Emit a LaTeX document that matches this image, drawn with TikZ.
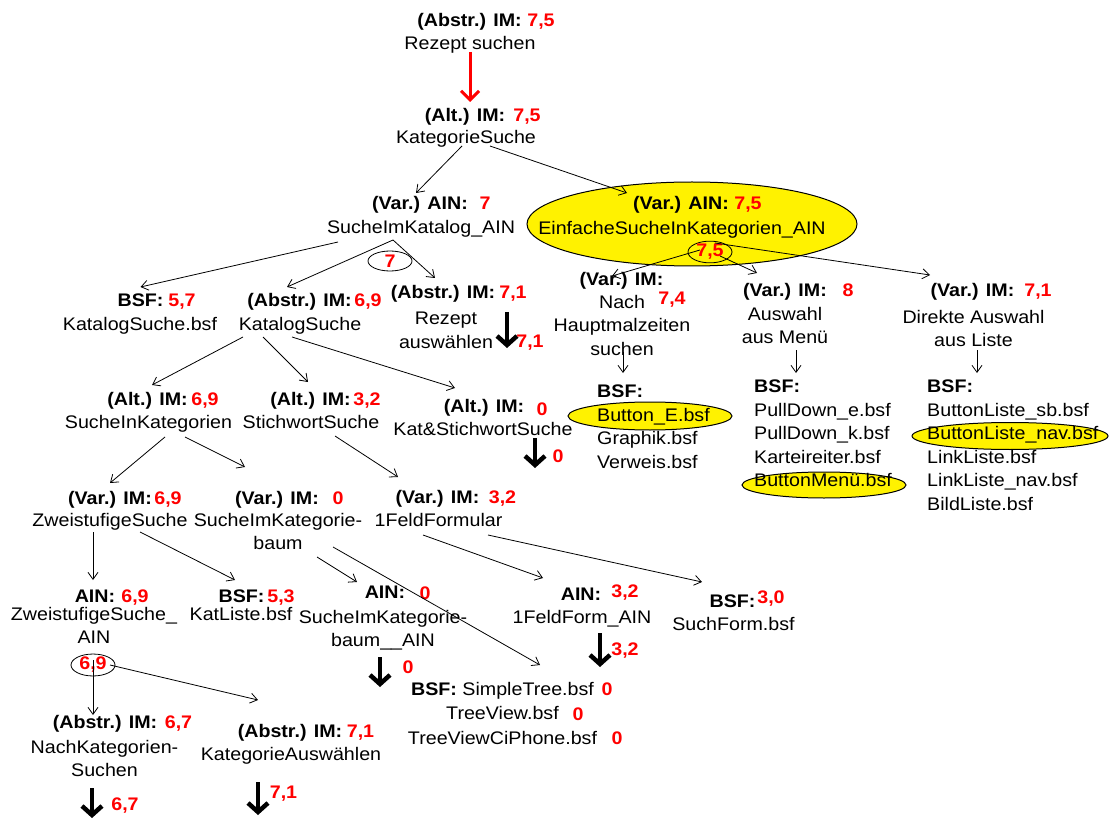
\documentclass[tikz,border=0pt]{standalone}
\usepackage{fontspec}
\setmainfont{Liberation Sans}[FakeStretch=1.08]
\usetikzlibrary{arrows.meta,shapes.geometric}
\newcommand{\grund}{\fontsize{18.2}{23.5}\selectfont}

\begin{document}
\begin{tikzpicture}[x=1pt, y=-1pt,
  every node/.style={inner sep=0pt},
  kopf/.style={anchor=base, font=\grund\bfseries},
  wert/.style={anchor=base, text=red, font=\grund\bfseries},
  txt/.style={anchor=north, align=center, font=\grund},
  liste/.style={anchor=north west, align=left, font=\grund},
  kreis/.style={ellipse, draw, line width=0.8pt, text=red, font=\grund\bfseries, minimum width=44pt, minimum height=20pt},
  pf/.style={-{Straight Barb[length=7pt,width=10pt]}, line width=0.8pt},
  dick/.style={-{Straight Barb[length=9pt,width=20pt]}, line width=4.5pt},
  rot/.style={-{Straight Barb[length=9pt,width=18pt]}, line width=3pt, red},
  gelb/.style={fill=yellow, draw=black, line width=1pt}]

\useasboundingbox (0,0) rectangle (1111,818);

% gelbe Markierungen
\filldraw[gelb] (692,224) ellipse [x radius=165, y radius=42];
\filldraw[gelb] (650,416) ellipse [x radius=82, y radius=14];
\filldraw[gelb] (824,485) ellipse [x radius=82, y radius=13];
\filldraw[gelb] (1010,436) ellipse [x radius=98, y radius=13.5];

% Wurzel
\node[kopf] (rsK) at (469.5,27) {(Abstr.) IM:};
\node[wert] (rsW) at (541,27) {7,5};
\node[txt] (rs) at (470,36) {Rezept suchen};
\node[kopf] (ksK) at (465,122) {(Alt.) IM:};
\node[wert] (ksW) at (527,122) {7,5};
\node[txt] (ks) at (466,130) {KategorieSuche};
\draw[rot] ([shift={(0,16)}]rs.north) -- ([shift={(5,-20)}]ksK.base);

% Ebene 2
\node[kopf] (skK) at (420,210) {(Var.) AIN:};
\node[wert] (skW) at (485,210) {7};
\node[txt] (sk) at (421,220) {SucheImKatalog\_AIN};
\node[kopf] (eiK) at (681,210) {(Var.) AIN:};
\node[wert] (eiW) at (748,210) {7,5};
\node[txt] (ei) at (682,221) {EinfacheSucheInKategorien\_AIN};
\draw[pf] ([shift={(-4,16)}]ks.north) -- ([shift={(-4,-17)}]skK.base);
\draw[pf] ([shift={(24,16)}]ks.north) -- ([shift={(-54,-17)}]eiK.base);
\node[kreis] (k7) at (390,261) {7};
\node[kreis] (k75) at (710,252) {7,5};

% unter SucheImKatalog_AIN
\node[kopf] (kbK) at (140.5,306) {BSF:};
\node[wert] (kbW) at (182,306) {5,7};
\node[txt] (kb) at (140,317) {KatalogSuche.bsf};
\node[kopf] (kaK) at (299.5,306) {(Abstr.) IM:};
\node[wert] (kaW) at (368,306) {6,9};
\node[txt] (ka) at (300,317) {KatalogSuche};
\node[kopf] (raK) at (443,299) {(Abstr.) IM:};
\node[wert] (raW) at (513,299) {7,1};
\node[txt] (ra) at (446,312) {Rezept\\auswählen};
\draw[dick] ([shift={(61,0)}]ra.north) -- ++(0,36);
\node[wert] (raP) at (530,347) {7,1};
\draw[pf] ([shift={(-83,22)}]sk.north) -- ([shift={(0,-19)}]kbK.base);
\draw[pf] ([shift={(-28,20)}]sk.north) -- ([shift={(-12.5,-19)}]kaK.base);
\draw[pf] ([shift={(-28,20)}]sk.north) -- ([shift={(-8,-21)}]raK.base);

% unter EinfacheSucheInKategorien_AIN
\node[kopf] (hmK) at (621.5,286) {(Var.) IM:};
\node[wert] (hmW) at (672,305) {7,4};
\node[txt] (hm) at (622,295) {Nach\\Hauptmalzeiten\\suchen};
\node[liste] (hmL) at (597,385) {\textbf{BSF:}\\Button\_E.bsf\\Graphik.bsf\\Verweis.bsf};
\node[kopf] (amK) at (785,297) {(Var.) IM:};
\node[wert] (amW) at (848,297) {8};
\node[txt] (am) at (785,307) {Auswahl\\aus Menü};
\node[liste] (amL) at (754,380) {\textbf{BSF:}\\PullDown\_e.bsf\\PullDown\_k.bsf\\Karteireiter.bsf\\ButtonMenü.bsf};
\node[kopf] (alK) at (972.5,297) {(Var.) IM:};
\node[wert] (alW) at (1038,297) {7,1};
\node[txt] (al) at (973.5,310) {Direkte Auswahl\\aus Liste};
\node[liste] (alL) at (927,380) {\textbf{BSF:}\\ButtonListe\_sb.bsf\\ButtonListe\_nav.bsf\\LinkListe.bsf\\LinkListe\_nav.bsf\\BildListe.bsf};
\draw[pf] ([shift={(-10,-2)}]k75.center) -- ([shift={(-9.5,-10)}]hmK.base);
\draw[pf] ([shift={(10,4)}]k75.center) -- ([shift={(-28,-24)}]amK.base);
\draw[pf] ([shift={(5,-9)}]k75.center) -- ([shift={(-42.5,-22)}]alK.base);
\draw[pf] ([shift={(1,57)}]hm.north) -- ([shift={(26,-12)}]hmL.north west);
\draw[pf] ([shift={(11,43)}]am.north) -- ([shift={(42,-7)}]amL.north west);
\draw[pf] ([shift={(3.5,40)}]al.north) -- ([shift={(50,-7)}]alL.north west);

% unter KatalogSuche
\node[kopf] (sikK) at (147.5,405) {(Alt.) IM:};
\node[wert] (sikW) at (205,405) {6,9};
\node[txt] (sik) at (148.5,415) {SucheInKategorien};
\node[kopf] (swK) at (310.5,405) {(Alt.) IM:};
\node[wert] (swW) at (367,405) {3,2};
\node[txt] (sw) at (311,415) {StichwortSuche};
\node[kopf] (kswK) at (484,412) {(Alt.) IM:};
\node[wert] (kswW) at (542,415) {0};
\node[txt] (ksw) at (483,422) {Kat\&StichwortSuche};
\draw[dick] ([shift={(52,16)}]ksw.north) -- ++(0,30);
\node[wert] (kswP) at (558,462) {0};
\draw[pf] ([shift={(-57,20)}]ka.north) -- ([shift={(4.5,-20)}]sikK.base);
\draw[pf] ([shift={(-37,20)}]ka.north) -- ([shift={(-2.5,-23)}]swK.base);
\draw[pf] ([shift={(-8,20)}]ka.north) -- ([shift={(-29,-24)}]kswK.base);

% Ebene 5
\node[kopf] (zsK) at (110,504) {(Var.) IM:};
\node[wert] (zsW) at (168,504) {6,9};
\node[txt] (zs) at (110,513) {ZweistufigeSuche};
\node[kopf] (sbK) at (277,504) {(Var.) IM:};
\node[wert] (sbW) at (338,504) {0};
\node[txt] (sb) at (278,513) {SucheImKategorie-\\baum};
\node[kopf] (ffK) at (437.5,503) {(Var.) IM:};
\node[wert] (ffW) at (502.5,503) {3,2};
\node[txt] (ff) at (438.5,513) {1FeldFormular};
\draw[pf] ([shift={(16.5,22)}]sik.north) -- ([shift={(0,-21)}]zsK.base);
\draw[pf] ([shift={(36.5,22)}]sik.north) -- ([shift={(-32,-37)}]sbK.base);
\draw[pf] ([shift={(24,21)}]sw.north) -- ([shift={(-39.5,-26)}]ffK.base);

% Ebene 6
\node[kopf] (zaK) at (95,602) {AIN:};
\node[wert] (zaW) at (135,602) {6,9};
\node[txt] (za) at (94,607) {ZweistufigeSuche\_\\AIN};
\node[kreis] (k69) at (93,665) {6,9};
\node[kopf] (klK) at (241.5,602) {BSF:};
\node[wert] (klW) at (281,602) {5,3};
\node[txt] (kl) at (241,607) {KatListe.bsf};
\node[kopf] (sbaK) at (385,598) {AIN:};
\node[wert] (sbaW) at (425,599) {0};
\node[txt] (sba) at (383,610) {SucheImKategorie-\\baum\_\_AIN};
\draw[dick] ([shift={(-3,47)}]sba.north) -- ++(0,30);
\node[wert] (sbaP) at (408,673) {0};
\node[kopf] (faK) at (581,600) {AIN:};
\node[wert] (faW) at (625,597) {3,2};
\node[txt] (fa) at (582,610) {1FeldForm\_AIN};
\draw[dick] ([shift={(18,23)}]fa.north) -- ++(0,34);
\node[wert] (faP) at (625,655) {3,2};
\node[kopf] (sfK) at (732.5,607) {BSF:};
\node[wert] (sfW) at (771,603) {3,0};
\node[txt] (sf) at (733.5,617) {SuchForm.bsf};
\node[txt] (bt) at (502.5,682) {\textbf{BSF:} SimpleTree.bsf\\[1pt]TreeView.bsf\\[1pt]TreeViewCiPhone.bsf};
\node[wert] (btW1) at (607,695) {0};
\node[wert] (btW2) at (578,720) {0};
\node[wert] (btW3) at (617,744) {0};
\draw[pf] ([shift={(-17,19)}]zs.north) -- ([shift={(-2,-22)}]zaK.base);
\draw[pf] ([shift={(30,19)}]zs.north) -- ([shift={(-6.5,-22)}]klK.base);
\draw[pf] ([shift={(39,44)}]sb.north) -- ([shift={(-28,-16)}]sbaK.base);
\draw[pf] ([shift={(55,34)}]sb.north) -- ([shift={(37.5,-17)}]bt.north);
\draw[pf] ([shift={(-15.5,22)}]ff.north) -- ([shift={(-38,-22)}]faK.base);
\draw[pf] ([shift={(49.5,22)}]ff.north) -- ([shift={(-30.5,-25)}]sfK.base);

% unterste Ebene
\node[kopf] (nkK) at (105,728) {(Abstr.) IM:};
\node[wert] (nkW) at (178.5,728) {6,7};
\node[txt] (nk) at (104.5,740) {NachKategorien-\\Suchen};
\draw[dick] ([shift={(-12.5,48)}]nk.north) -- ++(0,30);
\node[wert] (nkP) at (125,810) {6,7};
\node[kopf] (kwK) at (290,737) {(Abstr.) IM:};
\node[wert] (kwW) at (360.5,737) {7,1};
\node[txt] (kw) at (291,747) {KategorieAuswählen};
\draw[dick] ([shift={(-33,35)}]kw.north) -- ++(0,33);
\node[wert] (kwP) at (283.5,798) {7,1};
\draw[pf] ([shift={(0,-5)}]k69.center) -- ([shift={(-12,-13)}]nkK.base);
\draw[pf] ([shift={(17,0)}]k69.center) -- ([shift={(-32,-37)}]kwK.base);
\end{tikzpicture}
\end{document}
